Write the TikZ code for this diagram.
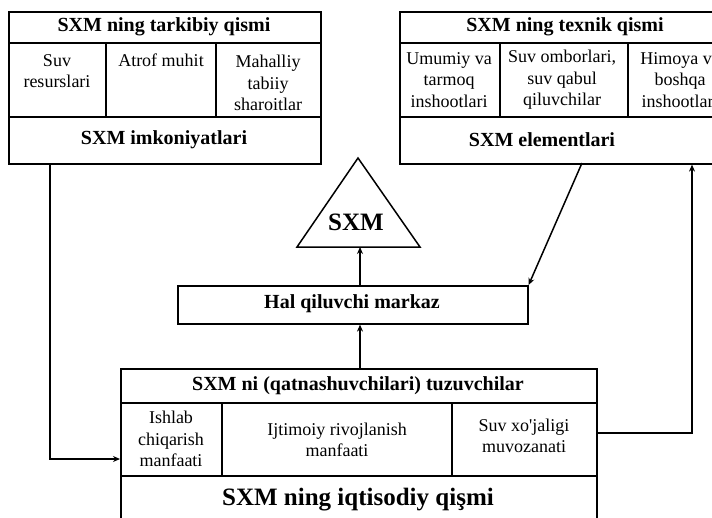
\documentclass[tikz,border=0pt]{standalone}
\usepackage{fontspec}
\setmainfont{Liberation Serif}[Ligatures=TeXOff]
\usetikzlibrary{arrows.meta}

\tikzset{
  frame/.style={draw, line width=1.6pt, inner sep=0pt, anchor=north west},
  rule/.style={line width=1.4pt},
  cell/.style={align=center, inner sep=0pt, font=\fontsize{18}{21.6}\selectfont},
  head/.style={inner sep=0pt, font=\fontsize{20}{24}\selectfont\bfseries},
  big/.style={inner sep=0pt, font=\fontsize{25}{30}\selectfont\bfseries},
  arr/.style={line width=1.5pt, -{Stealth[length=7pt,width=6pt]}}
}

\begin{document}
\begin{tikzpicture}[x=1pt, y=-1pt]
\useasboundingbox (0,0) rectangle (712,517);
\clip (0,0) rectangle (712,517);

% left block: components
\node[frame, minimum width=312pt, minimum height=152pt] (lbox) at (8,11) {};
\draw[rule] (8,43) -- (320,43) (8,117) -- (320,117)
            (106,43) -- (106,117) (216,43) -- (216,117);
\node[head] (lt) at (164,27) {SXM ning tarkibiy qismi};
\node[cell] (l1) at (57,71) {Suv\\resurslari};
\node[cell] (l2) at (161,60) {Atrof muhit};
\node[cell] (l3) at (268,83) {Mahalliy\\tabiiy\\sharoitlar};
\node[head] (lb) at (164,140) {SXM imkoniyatlari};

% right block: technical part
\node[frame, minimum width=333pt, minimum height=152pt] (rbox) at (399,11) {};
\draw[rule] (399,43) -- (732,43) (399,117) -- (732,117)
            (500,43) -- (500,117) (628,43) -- (628,117);
\node[head] (rt) at (565,27) {SXM ning texnik qismi};
\node[cell] (r1) at (449,80) {Umumiy va\\tarmoq\\inshootlari};
\node[cell] (r2) at (562,80) {Suv omborlari,\\suv qabul\\qiluvchilar};
\node[cell] (r3) at (680,80) {Himoya va\\boshqa\\inshootlari};
\node[head] (rb) at (542,140) {SXM elementlari};

% triangle
\coordinate (apex) at (358,158);
\coordinate (tl) at (297,247);
\coordinate (tr) at (420,247);
\coordinate (tb) at (360,247);
\draw[line width=1.5pt, line join=miter] (apex) -- (tr) -- (tl) -- cycle;
\node[big] (sxm) at (356,222) {SXM};

% decision centre
\node[frame, minimum width=350pt, minimum height=38pt] (hal) at (177,285) {};
\node[head] (ht) at (352,304) {Hal qiluvchi markaz};

% bottom block: economic part
\node[frame, minimum width=476pt, minimum height=172pt] (eco) at (120,368) {};
\draw[rule] (120,403) -- (596,403) (120,476) -- (596,476)
            (222,403) -- (222,476) (452,403) -- (452,476);
\node[head] (et) at (358,386) {SXM ni (qatnashuvchilari) tuzuvchilar};
\node[cell] (e1) at (171,439) {Ishlab\\chiqarish\\manfaati};
\node[cell] (e2) at (337,440) {Ijtimoiy rivojlanish\\manfaati};
\node[cell] (e3) at (524,436) {Suv xo'jaligi\\muvozanati};
\node[big] (eb) at (358,500) {SXM ning iqtisodiy qişmi};

% connectors
\coordinate (lc) at (50,163);
\coordinate (lj) at (50,459);
\coordinate (rs) at (582,163);
\coordinate (rj) at (692,433);
\draw[arr] (hal.north -| tb) -- (tb);
\draw[arr] (eco.north -| tb) -- (hal.south -| tb);
\draw[arr] (rs) -- (hal.north east);
\draw[arr] (lc) |- (eco.west |- lj);
\draw[arr] (eco.east |- rj) -| (rbox.south -| rj);
\end{tikzpicture}
\end{document}
